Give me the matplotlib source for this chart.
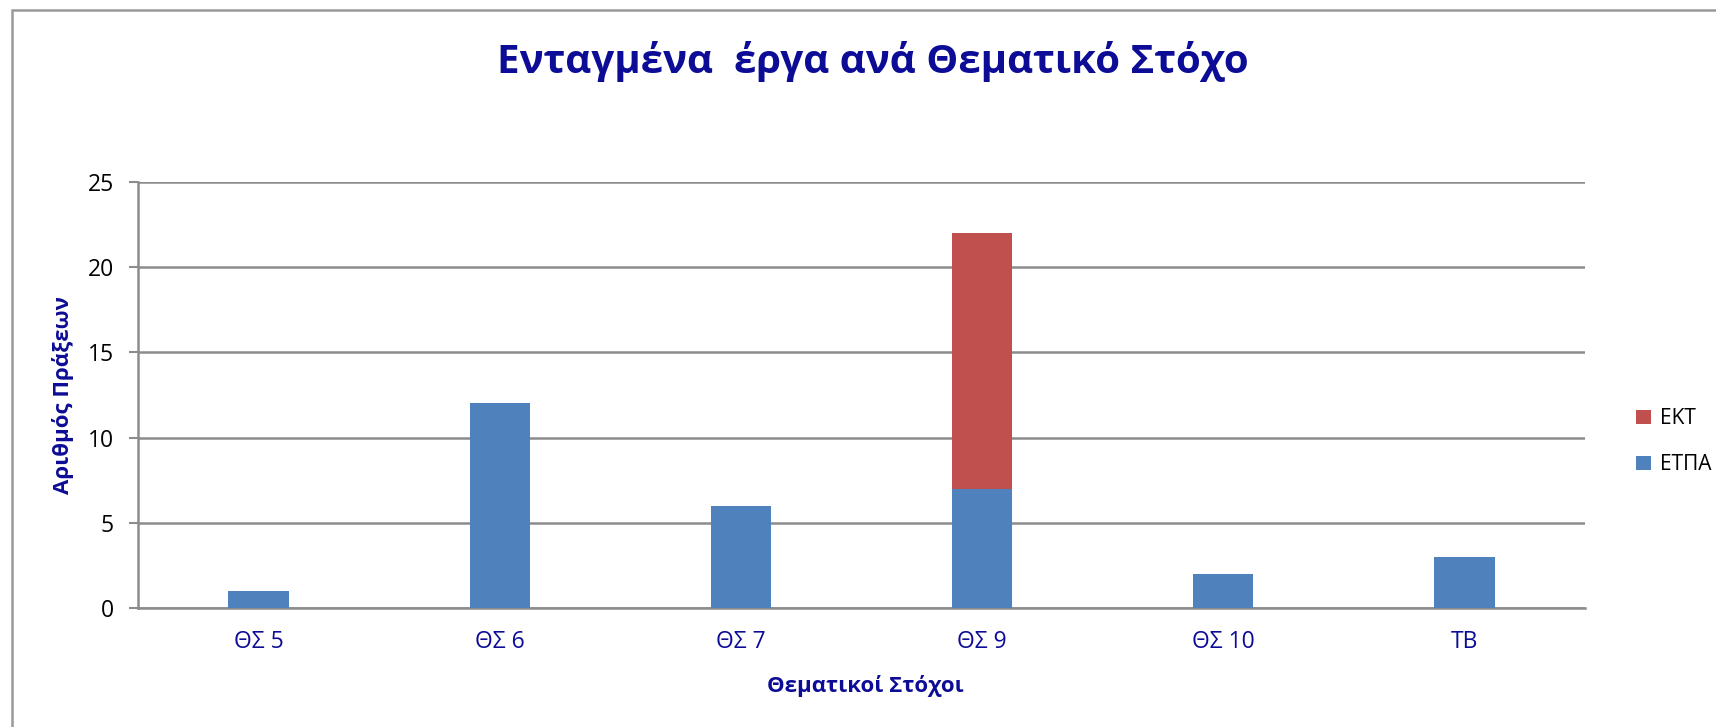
import matplotlib
matplotlib.use('Agg')
from matplotlib import pyplot as plt
from matplotlib.patches import Rectangle
import numpy as np

plt.rcParams['font.family'] = ['Open Sans', 'DejaVu Sans']

categories = ['ΘΣ 5', 'ΘΣ 6', 'ΘΣ 7', 'ΘΣ 9', 'ΘΣ 10', 'ΤΒ']
etpa = [1, 12, 6, 7, 2, 3]
ekt = [0, 0, 0, 15, 0, 0]
y_ticks = [0, 5, 10, 15, 20, 25]

navy = '#0c0c96'
grid_col = '#8c8c8c'

fig = plt.figure(figsize=(17.16, 7.27), dpi=100)
ax = fig.add_axes([0.0804, 0.1637, 0.8433, 0.586])

x = np.arange(len(categories))
b1 = ax.bar(x, etpa, width=0.25, color='#4F81BD', label='ΕΤΠΑ', zorder=3)
b2 = ax.bar(x, ekt, width=0.25, bottom=etpa, color='#C0504D', label='ΕΚΤ', zorder=3)

ax.set_xlim(-0.5, len(categories) - 0.5)
ax.set_ylim(0, 25)
ax.set_yticks(y_ticks)
ax.set_xticks(x)
ax.set_xticklabels(categories, color=navy, fontsize=16.5)
ax.tick_params(axis='x', length=0, pad=16)
ax.tick_params(axis='y', length=6.5, width=1.5, color=grid_col, labelsize=16.5, pad=11)
ax.yaxis.grid(True, color=grid_col, linewidth=1.8, zorder=0)

for s in ['top', 'right']:
    ax.spines[s].set_visible(False)
for s in ['left', 'bottom']:
    ax.spines[s].set_color(grid_col)
    ax.spines[s].set_linewidth(1.8)

ax.set_ylabel('Αριθμός Πράξεων', color=navy, fontsize=16, fontweight='bold')
ax.set_xlabel('Θεματικοί Στόχοι', color=navy, fontsize=16, fontweight='bold')
ax.yaxis.set_label_coords(-0.044, 0.5)
ax.xaxis.set_label_coords(0.5024, -0.157)

fig.text(0.5087, 0.915, 'Ενταγμένα  έργα ανά Θεματικό Στόχο', ha='center', va='center',
         color=navy, fontsize=29, fontweight='bold')

ax.legend(handles=[b2, b1], loc='center left', bbox_to_anchor=(1.024, 0.39),
          frameon=False, fontsize=15, handlelength=0.7, handleheight=0.7,
          handletextpad=0.45, labelspacing=1.2, borderpad=0.3)

# outer chart frame
fig.patches.append(Rectangle((12 / 1716, -0.1), 1.2, 1 - 10 / 727 + 0.1,
                             transform=fig.transFigure, fill=False,
                             edgecolor='#9a9a9a', linewidth=1.8))

fig.savefig('out.png', dpi=100)
